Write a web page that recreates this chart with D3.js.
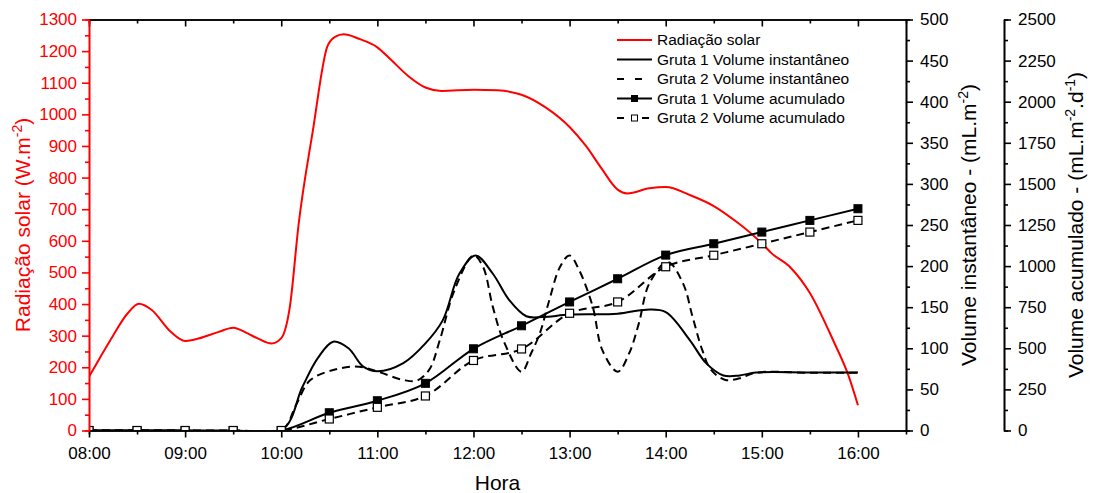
<!DOCTYPE html>
<html>
<head>
<meta charset="utf-8">
<script src="https://cdn.jsdelivr.net/npm/d3@7"></script>
<style>
body { margin: 0; background: #fff; }
text { font-family: "Liberation Sans", Arial, sans-serif; }
</style>
</head>
<body>
<div id="chart-area"></div>
<script>
// hours as decimal (8.5 = 08:30)
const hourTicks = [8, 9, 10, 11, 12, 13, 14, 15, 16];
const hourLabels = ['08:00', '09:00', '10:00', '11:00', '12:00', '13:00', '14:00', '15:00', '16:00'];

// radiação solar (W.m-2)
const radTime = [8, 8.11, 8.25, 8.4, 8.52, 8.65, 8.85, 9, 9.1, 9.35, 9.5, 9.65, 9.75, 9.9, 10, 10.09, 10.18, 10.33, 10.48, 10.56, 10.65, 10.8, 11, 11.15, 11.33, 11.5, 11.67, 12, 12.25, 12.5, 12.75, 13, 13.17, 13.33, 13.5, 13.6, 13.83, 14, 14.25, 14.5, 14.75, 14.9, 15, 15.1, 15.3, 15.5, 15.75, 15.9, 16];
const radValue = [170, 228, 300, 370, 401, 382, 312, 283, 288, 312, 325, 307, 292, 275, 292, 392, 650, 950, 1215, 1245, 1253, 1240, 1212, 1170, 1119, 1085, 1074, 1078, 1076, 1062, 1022, 960, 900, 830, 762, 750, 766, 770, 745, 710, 657, 620, 592, 561, 515, 435, 280, 175, 80];

// volume instantâneo (mL.m-2)
const g1InstTime = [8, 9, 10, 10.22, 10.38, 10.54, 10.7, 10.85, 11, 11.27, 11.5, 11.68, 11.85, 12.02, 12.2, 12.37, 12.55, 12.72, 13, 13.5, 13.8, 14, 14.25, 14.42, 14.6, 14.77, 14.94, 15.5, 16];
const g1InstValue = [0, 0, 0, 53, 88, 108, 100, 78, 72, 82, 106, 134, 190, 213, 191, 159, 139, 138, 141, 142, 147, 144, 110, 82, 67, 67, 70.5, 70.5, 70.5];

const g2InstTime = [8, 9, 10, 10.15, 10.3, 10.57, 10.81, 11.02, 11.27, 11.41, 11.54, 11.65, 11.8, 12, 12.1, 12.2, 12.31, 12.5, 12.6, 12.69, 12.79, 12.9, 13, 13.1, 13.24, 13.34, 13.5, 13.62, 13.72, 13.83, 14.02, 14.18, 14.28, 14.38, 14.47, 14.62, 14.77, 14.94, 15.5, 16];
const g2InstValue = [0, 0, 0, 30, 61, 74.5, 77.6, 71, 61.5, 60.6, 74, 110, 170, 213, 199, 151, 110, 71.5, 94, 118, 159, 199, 213, 195, 151, 98, 71.5, 94, 130, 179, 205, 179, 138, 98, 74, 61.5, 63.5, 70.3, 70.3, 70.3];

// volume acumulado (mL.m-2.d-1)
const accTime = [8, 8.5, 9, 9.5, 10, 10.5, 11, 11.5, 12, 12.5, 13, 13.5, 14, 14.5, 15, 15.5, 16];
const g1Acc = [0, 0, 0, 0, 0, 108, 181, 287, 497, 637, 782, 923, 1067, 1136, 1207, 1278, 1349];
const g2Acc = [0, 0, 0, 0, 0, 70, 141, 210, 426, 496, 713, 782, 996, 1066, 1136, 1207, 1278];

const legendItems = ['Radiação solar', 'Gruta 1 Volume instantâneo', 'Gruta 2 Volume instantâneo', 'Gruta 1 Volume acumulado', 'Gruta 2 Volume acumulado'];

const font = '"Liberation Sans", Arial, sans-serif';
const red = '#ff0000';
const pLeft = 89, pRight = 906, pTop = 19.5, pBottom = 430.5;

let svg = d3.select('#chart-area')
  .append('svg')
  .attr('width', 1093)
  .attr('height', 493)

let x = d3.scaleLinear().domain([8, 16.5]).range([pLeft, pRight])
let yRad = d3.scaleLinear().domain([0, 1300]).range([pBottom, pTop])
let yInst = d3.scaleLinear().domain([0, 500]).range([pBottom, pTop])
let yAcc = d3.scaleLinear().domain([0, 2500]).range([pBottom, pTop])

const zip = (t, v) => t.map((d, i) => [d, v[i]]);
const curve = d3.curveCatmullRom.alpha(0.5);

svg.append('clipPath').attr('id', 'plot-clip')
  .append('rect')
  .attr('x', pLeft).attr('y', pTop)
  .attr('width', pRight - pLeft).attr('height', pBottom - pTop)

let plot = svg.append('g').attr('clip-path', 'url(#plot-clip)')

// red line
plot.append('path')
  .datum(zip(radTime, radValue))
  .attr('fill', 'none').attr('stroke', red).attr('stroke-width', 2)
  .attr('d', d3.line().x(d => x(d[0])).y(d => yRad(d[1])).curve(d3.curveMonotoneX))

let instLine = d3.line().x(d => x(d[0])).y(d => yInst(d[1])).curve(curve)
let accLine = d3.line().x(d => x(d[0])).y(d => yAcc(d[1])).curve(curve)

plot.append('path')
  .datum(zip(g1InstTime, g1InstValue))
  .attr('fill', 'none').attr('stroke', '#000').attr('stroke-width', 2)
  .attr('d', instLine)

plot.append('path')
  .datum(zip(g2InstTime, g2InstValue))
  .attr('fill', 'none').attr('stroke', '#000').attr('stroke-width', 2)
  .attr('stroke-dasharray', '8,5')
  .attr('d', instLine)

plot.append('path')
  .datum(zip(accTime, g1Acc))
  .attr('fill', 'none').attr('stroke', '#000').attr('stroke-width', 2)
  .attr('d', accLine)

plot.append('path')
  .datum(zip(accTime, g2Acc))
  .attr('fill', 'none').attr('stroke', '#000').attr('stroke-width', 2)
  .attr('stroke-dasharray', '8,5')
  .attr('d', accLine)

const ms = 8;
plot.selectAll('rect.g1')
  .data(zip(accTime, g1Acc))
  .join('rect')
  .attr('class', 'g1')
  .attr('x', d => x(d[0]) - ms / 2).attr('y', d => yAcc(d[1]) - ms / 2)
  .attr('width', ms).attr('height', ms)
  .attr('fill', '#000').attr('stroke', '#000').attr('stroke-width', 1)

plot.selectAll('rect.g2')
  .data(zip(accTime, g2Acc))
  .join('rect')
  .attr('class', 'g2')
  .attr('x', d => x(d[0]) - ms / 2).attr('y', d => yAcc(d[1]) - ms / 2)
  .attr('width', ms).attr('height', ms)
  .attr('fill', '#fff').attr('stroke', '#000').attr('stroke-width', 1.2)

// axes
function styleAxis(g, color) {
  g.attr('font-family', font).attr('font-size', 17)
  g.selectAll('path.domain').attr('stroke', color).attr('stroke-width', 1.6)
  g.selectAll('.tick line').attr('stroke', color).attr('stroke-width', 1.6)
  g.selectAll('.tick text').attr('fill', color)
}

const halfHours = d3.range(8.5, 16.5, 1);
const intFmt = d3.format('d');

// bottom
svg.append('g').attr('transform', `translate(0,${pBottom})`)
  .call(d3.axisBottom(x).tickValues(halfHours).tickSize(4).tickFormat(''))
  .call(styleAxis, '#000')
svg.append('g').attr('transform', `translate(0,${pBottom})`)
  .call(d3.axisBottom(x).tickValues(hourTicks).tickSize(7).tickSizeOuter(0).tickPadding(9)
    .tickFormat((d, i) => hourLabels[i]))
  .call(styleAxis, '#000')

// top (ticks inward)
svg.append('g').attr('transform', `translate(0,${pTop})`)
  .call(d3.axisBottom(x).tickValues(halfHours).tickSize(4).tickFormat(''))
  .call(styleAxis, '#000')
svg.append('g').attr('transform', `translate(0,${pTop})`)
  .call(d3.axisBottom(x).tickValues(hourTicks).tickSize(7).tickSizeOuter(0).tickFormat(''))
  .call(styleAxis, '#000')

// left red
svg.append('g').attr('transform', `translate(${pLeft},0)`)
  .call(d3.axisLeft(yRad).tickValues(d3.range(50, 1300, 100)).tickSize(4).tickFormat(''))
  .call(styleAxis, red)
svg.append('g').attr('transform', `translate(${pLeft},0)`)
  .call(d3.axisLeft(yRad).tickValues(d3.range(0, 1301, 100)).tickSize(7).tickSizeOuter(0).tickPadding(5).tickFormat(intFmt))
  .call(styleAxis, red)

// right 1
svg.append('g').attr('transform', `translate(${pRight},0)`)
  .call(d3.axisRight(yInst).tickValues(d3.range(25, 500, 50)).tickSize(4).tickFormat(''))
  .call(styleAxis, '#000')
svg.append('g').attr('transform', `translate(${pRight},0)`)
  .call(d3.axisRight(yInst).tickValues(d3.range(0, 501, 50)).tickSize(7).tickSizeOuter(0).tickPadding(7).tickFormat(intFmt))
  .call(styleAxis, '#000')

// right 2
const pRight2 = 1004;
svg.append('g').attr('transform', `translate(${pRight2},0)`)
  .call(d3.axisRight(yAcc).tickValues(d3.range(125, 2500, 250)).tickSize(4).tickFormat(''))
  .call(styleAxis, '#000')
svg.append('g').attr('transform', `translate(${pRight2},0)`)
  .call(d3.axisRight(yAcc).tickValues(d3.range(0, 2501, 250)).tickSize(7).tickSizeOuter(0).tickPadding(7).tickFormat(intFmt))
  .call(styleAxis, '#000')

// axis titles
function title(xPos, parts, color) {
  let t = svg.append('text')
    .attr('transform', `translate(${xPos},${(pTop + pBottom) / 2}) rotate(-90)`)
    .attr('text-anchor', 'middle')
    .attr('font-size', 21)
    .attr('fill', color)
  parts.forEach(p => {
    t.append('tspan')
      .attr('font-size', p.sup ? 14 : 21)
      .attr('dy', p.sup ? -8 : (p.back ? 8 : 0))
      .text(p.s)
  })
}

title(30, [{ s: 'Radiação solar (W.m' }, { s: '-2', sup: true }, { s: ')', back: true }], red)
title(976, [{ s: 'Volume instantâneo - (mL.m' }, { s: '-2', sup: true }, { s: ')', back: true }], '#000')
title(1083, [{ s: 'Volume acumulado - (mL.m' }, { s: '-2', sup: true }, { s: '.d', back: true }, { s: '-1', sup: true }, { s: ')', back: true }], '#000')

svg.append('text')
  .attr('x', (pLeft + pRight) / 2).attr('y', 490)
  .attr('text-anchor', 'middle')
  .attr('font-size', 21)
  .text('Hora')

// legend
let legend = svg.append('g').attr('transform', 'translate(617,40)')
const rowH = 19.5;
legendItems.forEach((name, i) => {
  let row = legend.append('g').attr('transform', `translate(0,${i * rowH})`)
  if (i === 0) {
    row.append('line').attr('x1', 0).attr('x2', 35).attr('stroke', red).attr('stroke-width', 2)
  } else if (i === 1) {
    row.append('line').attr('x1', 0).attr('x2', 35).attr('stroke', '#000').attr('stroke-width', 2)
  } else if (i === 2) {
    row.append('line').attr('x1', 0).attr('x2', 35).attr('stroke', '#000').attr('stroke-width', 2)
      .attr('stroke-dasharray', '7,11')
  } else if (i === 3) {
    row.append('line').attr('x1', 0).attr('x2', 35).attr('stroke', '#000').attr('stroke-width', 2)
    row.append('rect').attr('x', 14).attr('y', -3.5).attr('width', 7).attr('height', 7).attr('fill', '#000')
  } else {
    row.append('line').attr('x1', 0).attr('x2', 7).attr('stroke', '#000').attr('stroke-width', 2)
    row.append('line').attr('x1', 25).attr('x2', 32).attr('stroke', '#000').attr('stroke-width', 2)
    row.append('rect').attr('x', 14.5).attr('y', -3).attr('width', 6).attr('height', 6)
      .attr('fill', '#fff').attr('stroke', '#000').attr('stroke-width', 1)
  }
  row.append('text')
    .attr('x', 40).attr('dy', '0.35em')
    .attr('font-size', 15.5)
    .text(name)
})
</script>
</body>
</html>
